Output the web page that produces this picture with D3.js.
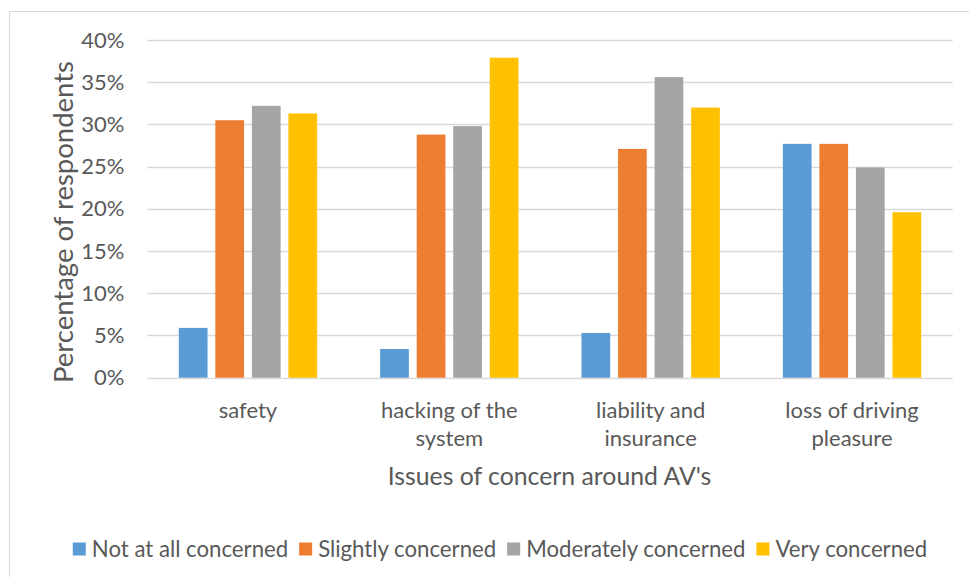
<!DOCTYPE html>
<html><head><meta charset="utf-8">
<script src="https://cdn.jsdelivr.net/npm/d3@7"></script>
<style>body{margin:0;background:#fff}svg{display:block}</style>
</head><body>
<script>
const categories = [["safety"], ["hacking of the", "system"], ["liability and", "insurance"], ["loss of driving", "pleasure"]];
const seriesNames = ["Not at all concerned", "Slightly concerned", "Moderately concerned", "Very concerned"];
const notAtAll   = [5.9, 3.4, 5.3, 27.7];
const slightly   = [30.5, 28.8, 27.1, 27.7];
const moderately = [32.2, 29.8, 35.6, 24.9];
const very       = [31.3, 37.9, 32.0, 19.6];
const yTicks = [0, 5, 10, 15, 20, 25, 30, 35, 40];
const colors = ["#5B9BD5", "#ED7D31", "#A5A5A5", "#FFC000"];
const values = [notAtAll, slightly, moderately, very];

const W = 969, H = 577;
const FONT = "Lato, 'Open Sans', sans-serif";
const TXT = "#595959";
const svg = d3.select("body").append("svg").attr("width", W).attr("height", H);

// outer chart border
svg.append("rect").attr("x", 9.5).attr("y", 11.5).attr("width", W).attr("height", H)
  .attr("fill", "none").attr("stroke", "#D9D9D9");

const plot = {left: 147.3, right: 952.7, top: 40, bottom: 377.7};
const catKeys = categories.map(c => c.join(" "));
const x0 = d3.scaleBand().domain(catKeys).range([plot.left, plot.right]).paddingInner(0).paddingOuter(0);
const x1 = d3.scaleBand().domain(seriesNames).range([31.5, x0.bandwidth() - 31.5]).paddingInner(0.214).paddingOuter(0);
const y = d3.scaleLinear().domain([0, 40]).range([plot.bottom, plot.top]);

// gridlines
svg.append("g").selectAll("line").data(yTicks).join("line")
  .attr("x1", plot.left).attr("x2", plot.right)
  .attr("y1", d => Math.round(y(d)) + 0.5).attr("y2", d => Math.round(y(d)) + 0.5)
  .attr("stroke", "#D9D9D9").attr("stroke-width", 1.3);

// y tick labels via axis
const yAxis = svg.append("g").attr("transform", `translate(${plot.left},0)`)
  .call(d3.axisLeft(y).tickValues(yTicks).tickFormat(d => d + "%").tickSize(0).tickPadding(23));
yAxis.select(".domain").remove();
yAxis.selectAll("text").attr("fill", TXT).style("font-family", FONT).style("font-size", "22px");

// bars
const groups = svg.append("g").selectAll("g").data(catKeys).join("g")
  .attr("transform", d => `translate(${x0(d)},0)`);
groups.selectAll("rect").data((d, i) => seriesNames.map((s, j) => ({s, v: values[j][i], c: colors[j]})))
  .join("rect")
  .attr("x", d => x1(d.s)).attr("width", x1.bandwidth())
  .attr("y", d => y(d.v)).attr("height", d => y(0) - y(d.v))
  .attr("fill", d => d.c);

// x labels
const xl = svg.append("g").selectAll("text").data(categories).join("text")
  .attr("x", (d, i) => x0(catKeys[i]) + x0.bandwidth() / 2)
  .attr("y", 418)
  .attr("text-anchor", "middle").attr("fill", TXT)
  .style("font-family", FONT).style("font-size", "22px");
xl.selectAll("tspan").data(d => d).join("tspan")
  .attr("x", function() { return this.parentNode.getAttribute("x"); })
  .attr("dy", (d, i) => i === 0 ? 0 : 28)
  .text(d => d);

// axis titles
svg.append("text").attr("x", 549.5).attr("y", 485).attr("text-anchor", "middle")
  .attr("fill", TXT).style("font-family", FONT).style("font-size", "24.8px")
  .text("Issues of concern around AV's");
svg.append("text").attr("transform", "translate(73,222) rotate(-90)").attr("text-anchor", "middle")
  .attr("fill", TXT).style("font-family", FONT).style("font-size", "27.5px")
  .text("Percentage of respondents");

// legend
const leg = svg.append("g");
const items = leg.selectAll("g").data(seriesNames).join("g");
items.append("rect").attr("width", 13).attr("height", 13).attr("y", 542.5).attr("fill", (d, i) => colors[i]);
items.append("text").attr("x", 19).attr("y", 556.5).attr("fill", TXT)
  .style("font-family", FONT).style("font-size", "22.2px").text(d => d);
let widths = [];
items.each(function() { widths.push(d3.select(this).select("text").node().getComputedTextLength()); });
const gap = 11;
const total = widths.reduce((a, w) => a + 19 + w, 0) + gap * (widths.length - 1);
let cx = 500 - total / 2;
items.attr("transform", (d, i) => { const t = `translate(${cx},0)`; cx += 19 + widths[i] + gap; return t; });
</script>
</body></html>
